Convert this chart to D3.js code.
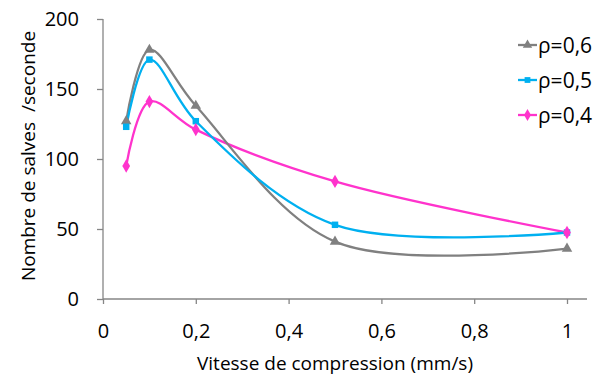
<!DOCTYPE html>
<html><head><meta charset="utf-8">
<script src="https://cdn.jsdelivr.net/npm/d3@7"></script>
<style>body{margin:0;background:#fff}svg{display:block}text{font-family:"Open Sans",sans-serif;fill:#000}</style>
</head><body>
<script>
const xValues = [0.05, 0.1, 0.2, 0.5, 1];
const seriesNames = ["ρ=0,6", "ρ=0,5", "ρ=0,4"];
const rho06 = [127, 178, 138, 41, 36];
const rho05 = [123, 171, 127, 53, 47.5];
const rho04 = [95, 141, 121, 84, 47.5];
const xTicks = [0, 0.2, 0.4, 0.6, 0.8, 1];
const xTickLabels = ["0", "0,2", "0,4", "0,6", "0,8", "1"];
const yTicks = [0, 50, 100, 150, 200];
const colors = ["#808080", "#00B0F0", "#FF33CC"];
const symbols = [d3.symbolTriangle, d3.symbolSquare, d3.symbolDiamond];
const symSizes = [48, 42, 52];

const W = 603, H = 378;
const svg = d3.select("body").append("svg").attr("width", W).attr("height", H);
const x = d3.scaleLinear().domain([0, 1]).range([103, 567]);
const y = d3.scaleLinear().domain([0, 200]).range([299, 19]);
const axisColor = "#868686";

const xAxis = svg.append("g").attr("transform", `translate(0,${y(0)})`)
  .call(d3.axisBottom(x).tickValues(xTicks).tickFormat((d, i) => xTickLabels[i]).tickSize(5).tickPadding(20));
const yAxis = svg.append("g").attr("transform", `translate(${x(0)},0)`)
  .call(d3.axisLeft(y).tickValues(yTicks).tickSize(6).tickPadding(18));
[xAxis, yAxis].forEach(g => {
  g.selectAll("path,line").attr("stroke", axisColor).attr("stroke-width", 1.3);
  g.selectAll("text").attr("font-size", 20).attr("font-family", "Open Sans");
});
xAxis.select(".domain").attr("d", `M${x(0)},0H${x(1)+20}`);
yAxis.select(".domain").attr("d", `M0,${y(0)}V${y(200)}`);

svg.append("text").attr("x", 335).attr("y", 370).attr("text-anchor", "middle")
  .attr("font-size", 19).text("Vitesse de compression (mm/s)");
svg.append("text").attr("transform", `translate(35,156) rotate(-90)`).attr("text-anchor", "middle")
  .attr("font-size", 19).text("Nombre de salves  /seconde").attr("xml:space", "preserve").style("white-space", "pre");

const all = [rho06, rho05, rho04];
const line = d3.line().x(d => x(d[0])).y(d => y(d[1])).curve(d3.curveCatmullRom.alpha(0.5));
[2, 0, 1].forEach(si => {
  const pts = xValues.map((xv, i) => [xv, all[si][i]]);
  svg.append("path").attr("d", line(pts)).attr("fill", "none")
    .attr("stroke", colors[si]).attr("stroke-width", 2.3);
});
[0, 1, 2].forEach(si => {
  const pts = xValues.map((xv, i) => [xv, all[si][i]]);
  svg.selectAll(null).data(pts).enter().append("path")
    .attr("d", d3.symbol().type(symbols[si]).size(symSizes[si]))
    .attr("transform", d => `translate(${x(d[0])},${y(d[1])})`)
    .attr("fill", colors[si]);
});

const legend = svg.append("g");
seriesNames.forEach((name, i) => {
  const ly = 45 + i * 35;
  legend.append("line").attr("x1", 518).attr("x2", 537).attr("y1", ly).attr("y2", ly)
    .attr("stroke", colors[i]).attr("stroke-width", 2.3);
  legend.append("path").attr("d", d3.symbol().type(symbols[i]).size(symSizes[i] * 0.8))
    .attr("transform", `translate(527.5,${ly})`).attr("fill", colors[i]);
  legend.append("text").attr("x", 538).attr("y", ly + 8).attr("font-size", 21).text(name);
});
</script>
</body></html>
